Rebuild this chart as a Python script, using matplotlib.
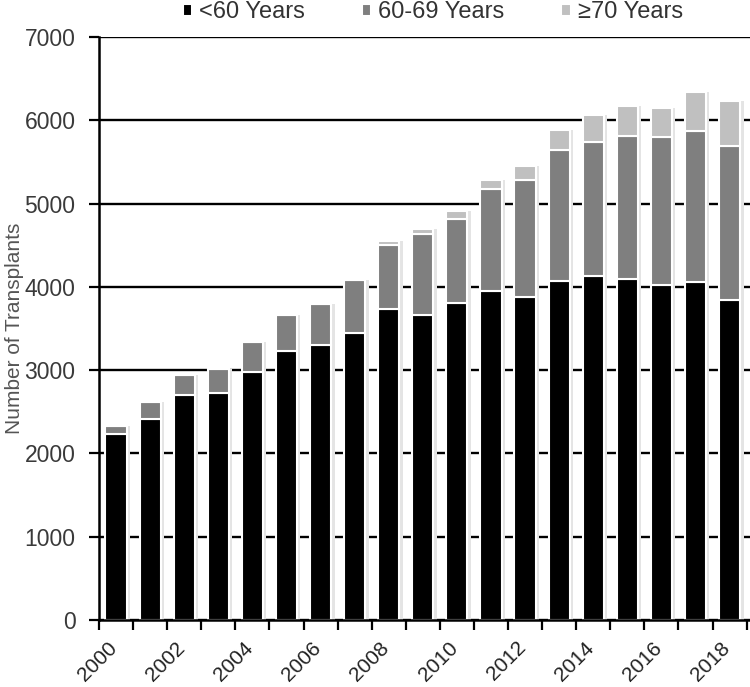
import matplotlib
matplotlib.use("Agg")
import matplotlib.pyplot as plt
import matplotlib.transforms as mtransforms
import numpy as np

plt.rcParams['font.family'] = ['Liberation Sans', 'DejaVu Sans']

years = list(range(2000, 2019))
under60 = [2228, 2408, 2700, 2732, 2980, 3232, 3308, 3448, 3740, 3660,
           3812, 3952, 3880, 4068, 4132, 4100, 4020, 4060, 3840]
age60_69 = [104, 212, 248, 288, 360, 428, 492, 640, 760, 980,
            1000, 1228, 1400, 1572, 1608, 1712, 1780, 1812, 1852]
age70plus = [0, 0, 0, 0, 0, 0, 0, 0, 48, 52,
             100, 100, 172, 240, 320, 360, 352, 468, 540]
labels = ['<60 Years', '60-69 Years', '\u226570 Years']
colors = ['#000000', '#7f7f7f', '#c0c0c0']

fig = plt.figure(figsize=(7.5, 6.87), dpi=100)
ax = fig.add_axes([0.132, 0.0975, 0.868, 0.8485])

x = np.arange(len(years))
w = 0.62
a = np.array(under60)
b = np.array(age60_69)
c = np.array(age70plus)
total = a + b + c

# soft shadow to the right of each bar
ax.bar(x + 0.1, total, width=w, color='#e4e4e4', zorder=1, linewidth=0)

h1 = ax.bar(x, a, width=w, color=colors[0], edgecolor='white', linewidth=1.5, zorder=2, label=labels[0])
h2 = ax.bar(x, b, bottom=a, width=w, color=colors[1], edgecolor='white', linewidth=1.5, zorder=2, label=labels[1])
h3 = ax.bar(x, c, bottom=a + b, width=w, color=colors[2], edgecolor='white', linewidth=1.5, zorder=2, label=labels[2])

ax.set_ylim(0, 7000)
ax.set_xlim(-0.5, 18.6)
ax.set_yticks(np.arange(0, 7001, 1000))
ax.set_yticklabels([str(v) for v in range(0, 7001, 1000)])
ax.yaxis.grid(True, color='black', linewidth=1.7)
ax.set_axisbelow(True)

# ticks at category boundaries, labels every other year at bar centers
ax.set_xticks(np.arange(-0.5, len(years), 1.0))
ax.set_xticklabels([])
ax.set_xticks(x[::2], minor=True)
ax.set_xticklabels([str(y) for y in years[::2]], minor=True, rotation=45,
                   ha='right', va='top', rotation_mode='anchor', fontsize=15, color='#222222')
ax.tick_params(axis='x', which='minor', length=0, pad=13)
ax.tick_params(axis='x', which='major', length=7, width=1.6, direction='out', color='black')
ax.tick_params(axis='y', length=7, width=1.6, direction='out', labelsize=16.5, labelcolor='#3a3a3a', pad=10)

offset = mtransforms.ScaledTranslation(-9 / 100, 0, fig.dpi_scale_trans)
for lbl in ax.get_xticklabels(minor=True):
    lbl.set_transform(lbl.get_transform() + offset)

for s in ['top', 'right']:
    ax.spines[s].set_visible(False)
for s in ['left', 'bottom']:
    ax.spines[s].set_linewidth(1.8)
    ax.spines[s].set_color('black')

ax.set_ylabel('Number of Transplants', fontsize=15, color='#555555', labelpad=0)

fig.legend(handles=[h1, h2, h3], labels=labels, loc='center', bbox_to_anchor=(0.577, 0.982),
           ncol=3, frameon=False, fontsize=17, handlelength=0.4, handleheight=0.4,
           handletextpad=0.3, columnspacing=2.4, labelcolor='#333333')

fig.savefig('out.png', dpi=100)
